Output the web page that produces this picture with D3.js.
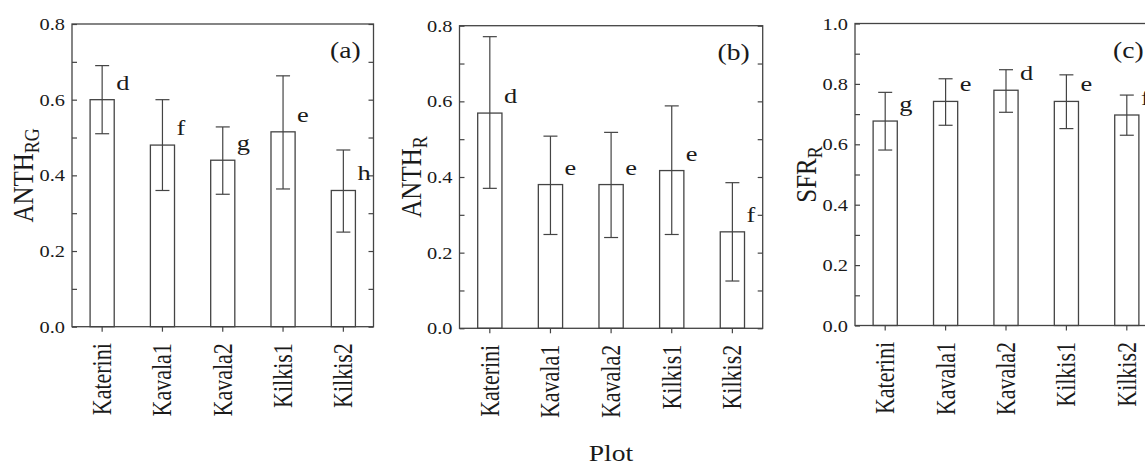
<!DOCTYPE html>
<meta charset="utf-8">
<script src="https://d3js.org/d3.v7.min.js"></script>
<style>
  body { margin: 0; background: #fff; }
  text { font-family: "Liberation Serif", "Times New Roman", serif; fill: #1a1a1a; }
  .frame { fill: none; stroke: #444; stroke-width: 1.3px; }
  .bar { fill: #fff; stroke: #444; stroke-width: 1.3px; }
  .err { stroke: #444; stroke-width: 1.2px; fill: none; }
  .tick line { stroke: #444; stroke-width: 1.2px; }
</style>
<body></body>
<script>

// categories (plots) shared by the three panels
var plots = ["Katerini", "Kavala1", "Kavala2", "Kilkis1", "Kilkis2"];

// (a) ANTH_RG
var anthRG      = [0.600, 0.480, 0.440, 0.515, 0.360];
var anthRGLow   = [0.510, 0.360, 0.350, 0.364, 0.250];
var anthRGHigh  = [0.690, 0.600, 0.528, 0.663, 0.467];
var anthRGGroup = ["d", "f", "g", "e", "h"];

// (b) ANTH_R
var anthR      = [0.569, 0.380, 0.380, 0.417, 0.255];
var anthRLow   = [0.370, 0.248, 0.240, 0.248, 0.125];
var anthRHigh  = [0.771, 0.508, 0.518, 0.588, 0.385];
var anthRGroupB = ["d", "e", "e", "e", "f"];

// (c) SFR_R
var sfrR      = [0.677, 0.742, 0.779, 0.742, 0.697];
var sfrRLow   = [0.581, 0.663, 0.706, 0.652, 0.630];
var sfrRHigh  = [0.772, 0.817, 0.847, 0.830, 0.763];
var sfrRGroup = ["g", "e", "d", "e", "f"];

var yMajorA = [0, 0.2, 0.4, 0.6, 0.8];
var yMajorC = [0, 0.2, 0.4, 0.6, 0.8, 1.0];

var width = 1145, height = 466;
var sx = 1.2; // the figure is slightly stretched sideways

var svg = d3.select("body").append("svg")
    .attr("width", width)
    .attr("height", height);

var panels = [
  { tag: "(a)", main: "ANTH", sub: "RG", vals: anthRG, lo: anthRGLow, hi: anthRGHigh, grp: anthRGGroup,
    max: 0.8, major: yMajorA, x0: 72, x1: 373.5, y0: 24, y1: 326.7 },
  { tag: "(b)", main: "ANTH", sub: "R", vals: anthR, lo: anthRLow, hi: anthRHigh, grp: anthRGroupB,
    max: 0.8, major: yMajorA, x0: 459.5, x1: 762.7, y0: 25.7, y1: 328.3 },
  { tag: "(c)", main: "SFR", sub: "R", vals: sfrR, lo: sfrRLow, hi: sfrRHigh, grp: sfrRGroup,
    max: 1.0, major: yMajorC, x0: 855, x1: 1157, y0: 23.5, y1: 325.5 }
];

panels.forEach(drawPanel);

function drawPanel(p) {
  var g = svg.append("g");

  var x = d3.scaleBand()
      .domain(plots)
      .range([p.x0, p.x1])
      .paddingInner(0.6)
      .paddingOuter(0.3);

  var y = d3.scaleLinear()
      .domain([0, p.max])
      .range([p.y1, p.y0]);

  var minor = d3.range(0, Math.round(p.max * 10) + 1).map(function(i) { return i / 10; });

  // inward ticks left and right
  g.append("g")
      .attr("transform", "translate(" + p.x0 + ",0)")
      .call(d3.axisLeft(y).tickValues(minor).tickSize(-5).tickFormat(""))
      .call(function(a) { a.select(".domain").remove(); });
  g.append("g")
      .attr("transform", "translate(" + p.x1 + ",0)")
      .call(d3.axisRight(y).tickValues(minor).tickSize(-5).tickFormat(""))
      .call(function(a) { a.select(".domain").remove(); });

  // outward category ticks
  g.append("g")
      .attr("transform", "translate(0," + p.y1 + ")")
      .call(d3.axisBottom(x).tickSize(5).tickFormat(""))
      .call(function(a) { a.select(".domain").remove(); });

  // y tick labels
  g.selectAll(".ylab").data(p.major).enter().append("text")
      .attr("class", "ylab")
      .attr("text-anchor", "end")
      .attr("font-size", 17)
      .attr("transform", function(d) {
        return "translate(" + (p.x0 - 7) + "," + (y(d) + 6) + ") scale(" + sx + ",1)";
      })
      .text(function(d) { return d.toFixed(1); });

  // bars
  var rows = plots.map(function(name, i) {
    return { name: name, v: p.vals[i], lo: p.lo[i], hi: p.hi[i], grp: p.grp[i] };
  });

  g.selectAll(".bar").data(rows).enter().append("rect")
      .attr("class", "bar")
      .attr("x", function(d) { return x(d.name); })
      .attr("width", x.bandwidth())
      .attr("y", function(d) { return y(d.v); })
      .attr("height", function(d) { return y(0) - y(d.v); });

  // error bars
  var cap = 7;
  var err = g.selectAll(".errg").data(rows).enter().append("g").attr("class", "errg");
  err.append("line").attr("class", "err")
      .attr("x1", function(d) { return x(d.name) + x.bandwidth() / 2; })
      .attr("x2", function(d) { return x(d.name) + x.bandwidth() / 2; })
      .attr("y1", function(d) { return y(d.lo); })
      .attr("y2", function(d) { return y(d.hi); });
  ["lo", "hi"].forEach(function(k) {
    err.append("line").attr("class", "err")
        .attr("x1", function(d) { return x(d.name) + x.bandwidth() / 2 - cap; })
        .attr("x2", function(d) { return x(d.name) + x.bandwidth() / 2 + cap; })
        .attr("y1", function(d) { return y(d[k]); })
        .attr("y2", function(d) { return y(d[k]); });
  });

  // significance letters
  g.selectAll(".grp").data(rows).enter().append("text")
      .attr("class", "grp")
      .attr("font-size", 22)
      .attr("transform", function(d) {
        return "translate(" + (x(d.name) + x.bandwidth() + 2) + "," + (y(d.v) - 10) + ") scale(" + sx + ",1)";
      })
      .text(function(d) { return d.grp; });

  // frame
  g.append("rect")
      .attr("class", "frame")
      .attr("x", p.x0)
      .attr("y", p.y0)
      .attr("width", p.x1 - p.x0)
      .attr("height", p.y1 - p.y0);

  // category labels, vertical
  g.selectAll(".xlab").data(plots).enter().append("text")
      .attr("class", "xlab")
      .attr("text-anchor", "end")
      .attr("font-size", 22)
      .attr("transform", function(d) {
        return "translate(" + (x(d) + x.bandwidth() / 2 + 9) + "," + (p.y1 + 16.5) + ") scale(" + sx + ",1) rotate(-90)";
      })
      .text(function(d) { return d; });

  // panel tag
  g.append("text")
      .attr("font-size", 23)
      .attr("transform", "translate(" + (p.x0 + 258) + "," + (p.y0 + 34) + ") scale(" + sx + ",1)")
      .text(p.tag);

  // y title with subscript
  var t = g.append("text")
      .attr("text-anchor", "middle")
      .attr("font-size", 25)
      .attr("transform", "translate(" + (p.x0 - 39) + "," + ((p.y0 + p.y1) / 2) + ") scale(" + sx + ",1) rotate(-90)");
  t.append("tspan").text(p.main);
  t.append("tspan").attr("font-size", 18).attr("dy", "0.3em").text(p.sub);
}

// shared x title
svg.append("text")
    .attr("text-anchor", "middle")
    .attr("font-size", 23)
    .attr("transform", "translate(611,461) scale(" + sx + ",1)")
    .text("Plot");

</script>
